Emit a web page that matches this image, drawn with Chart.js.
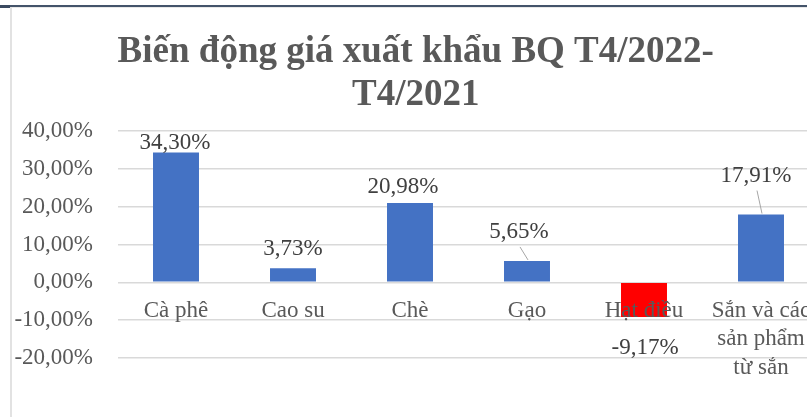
<!DOCTYPE html>
<html>
<head>
<meta charset="utf-8">
<script src="https://cdn.jsdelivr.net/npm/chart.js@4"></script>
<style>
    html, body { margin: 0; padding: 0; background: #fff; overflow: hidden; }
    body { width: 807px; height: 417px; position: relative; }
    .top-rule { position: absolute; left: 0; top: 5px; width: 807px; height: 2px; background: #44546a; }
    .top-rule-tab { position: absolute; left: 0; top: 5px; width: 10px; height: 3px; background: #3b4a60; }
    .chart-frame { position: absolute; left: 10px; top: 7px; border-left: 2px solid #e2e2e2; border-top: 1px solid #e8e8e8; }
    .chart-box { position: relative; width: 820px; height: 409px; }
</style>
</head>
<body>
<div class="top-rule"></div>
<div class="top-rule-tab"></div>
<div class="chart-frame">
    <div class="chart-box"><canvas id="price-chart"></canvas></div>
</div>
<script>
const TITLE_LINES = ["Biến động giá xuất khẩu BQ T4/2022-", "T4/2021"];

const CATEGORIES = [
    "Cà phê",
    "Cao su",
    "Chè",
    "Gạo",
    "Hạt điều",
    ["Sắn và các", "sản phẩm", "từ sắn"],
];

const PRICE_CHANGE = [34.30, 3.73, 20.98, 5.65, -9.17, 17.91];

const Y_TICK_MIN = -20;
const Y_TICK_MAX = 40;
const Y_TICK_STEP = 10;

const BAR_BLUE = "#4472c4";
const BAR_RED = "#ff0000";
const TEXT_GRAY = "#595959";
const LABEL_GRAY = "#404040";
const SERIF = "'Liberation Serif', 'Times New Roman', serif";

function formatPercent(v) {
    return v.toFixed(2).replace('.', ',') + '%';
}

// data labels, some of them were dragged around in the original sheet
const barLabels = {
    id: 'barLabels',
    afterDatasetsDraw(chart, args, opts) {
        const { ctx } = chart;
        const meta = chart.getDatasetMeta(0);
        const values = chart.data.datasets[0].data;
        ctx.save();
        ctx.font = `23px ${SERIF}`;
        ctx.fillStyle = LABEL_GRAY;
        ctx.textAlign = 'center';
        ctx.textBaseline = 'middle';
        meta.data.forEach((bar, i) => {
            const v = values[i];
            const dy = opts.offsets[i] ?? 10;
            const dx = opts.shifts[i] ?? 0;
            const x = bar.x + dx;
            const y = v >= 0 ? bar.y - dy : bar.y + dy;
            ctx.fillText(formatPercent(v), x, y);
            if (opts.leaders[i]) {
                ctx.strokeStyle = '#a6a6a6';
                ctx.lineWidth = 1;
                ctx.beginPath();
                ctx.moveTo(x + 1, y + 15);
                ctx.lineTo(bar.x + 1, bar.y - 1);
                ctx.stroke();
            }
        });
        ctx.restore();
    }
};

new Chart(document.getElementById('price-chart'), {
    type: 'bar',
    data: {
        labels: CATEGORIES,
        datasets: [{
            data: PRICE_CHANGE,
            backgroundColor: PRICE_CHANGE.map(v => v < 0 ? BAR_RED : BAR_BLUE),
            borderWidth: 0,
            barPercentage: 0.393,
            categoryPercentage: 1
        }]
    },
    options: {
        responsive: true,
        maintainAspectRatio: false,
        animation: false,
        layout: { padding: { top: 0, left: 0, right: 12.5, bottom: 59 } },
        plugins: {
            legend: { display: false },
            tooltip: { enabled: false },
            title: {
                display: true,
                text: TITLE_LINES,
                color: TEXT_GRAY,
                font: { family: SERIF, size: 37, weight: 'bold', lineHeight: 1.17 },
                padding: { top: 23, bottom: 13.4 }
            },
            barLabels: {
                offsets: [10, 19, 16, 29, 31, 39],
                shifts: [-1, 0, -7, -8, 1, -5],
                leaders: [false, false, false, true, false, true]
            }
        },
        scales: {
            x: {
                position: { y: 0 },
                grid: { display: false, drawTicks: false },
                border: { display: false },
                ticks: {
                    z: 1, // category names sit on top of the bars
                    color: TEXT_GRAY,
                    font: { family: SERIF, size: 23, lineHeight: 1.22 },
                    padding: 15,
                    autoSkip: false,
                    maxRotation: 0,
                    minRotation: 0
                }
            },
            y: {
                min: Y_TICK_MIN,
                max: Y_TICK_MAX,
                afterFit(scale) { scale.width = 105.5; },
                grid: { color: '#d9d9d9', lineWidth: 1.5, drawTicks: false },
                border: { display: false },
                ticks: {
                    stepSize: Y_TICK_STEP,
                    color: TEXT_GRAY,
                    font: { family: SERIF, size: 23 },
                    padding: 24.5,
                    callback: v => formatPercent(v)
                }
            }
        }
    },
    plugins: [barLabels]
});
</script>
</body>
</html>
